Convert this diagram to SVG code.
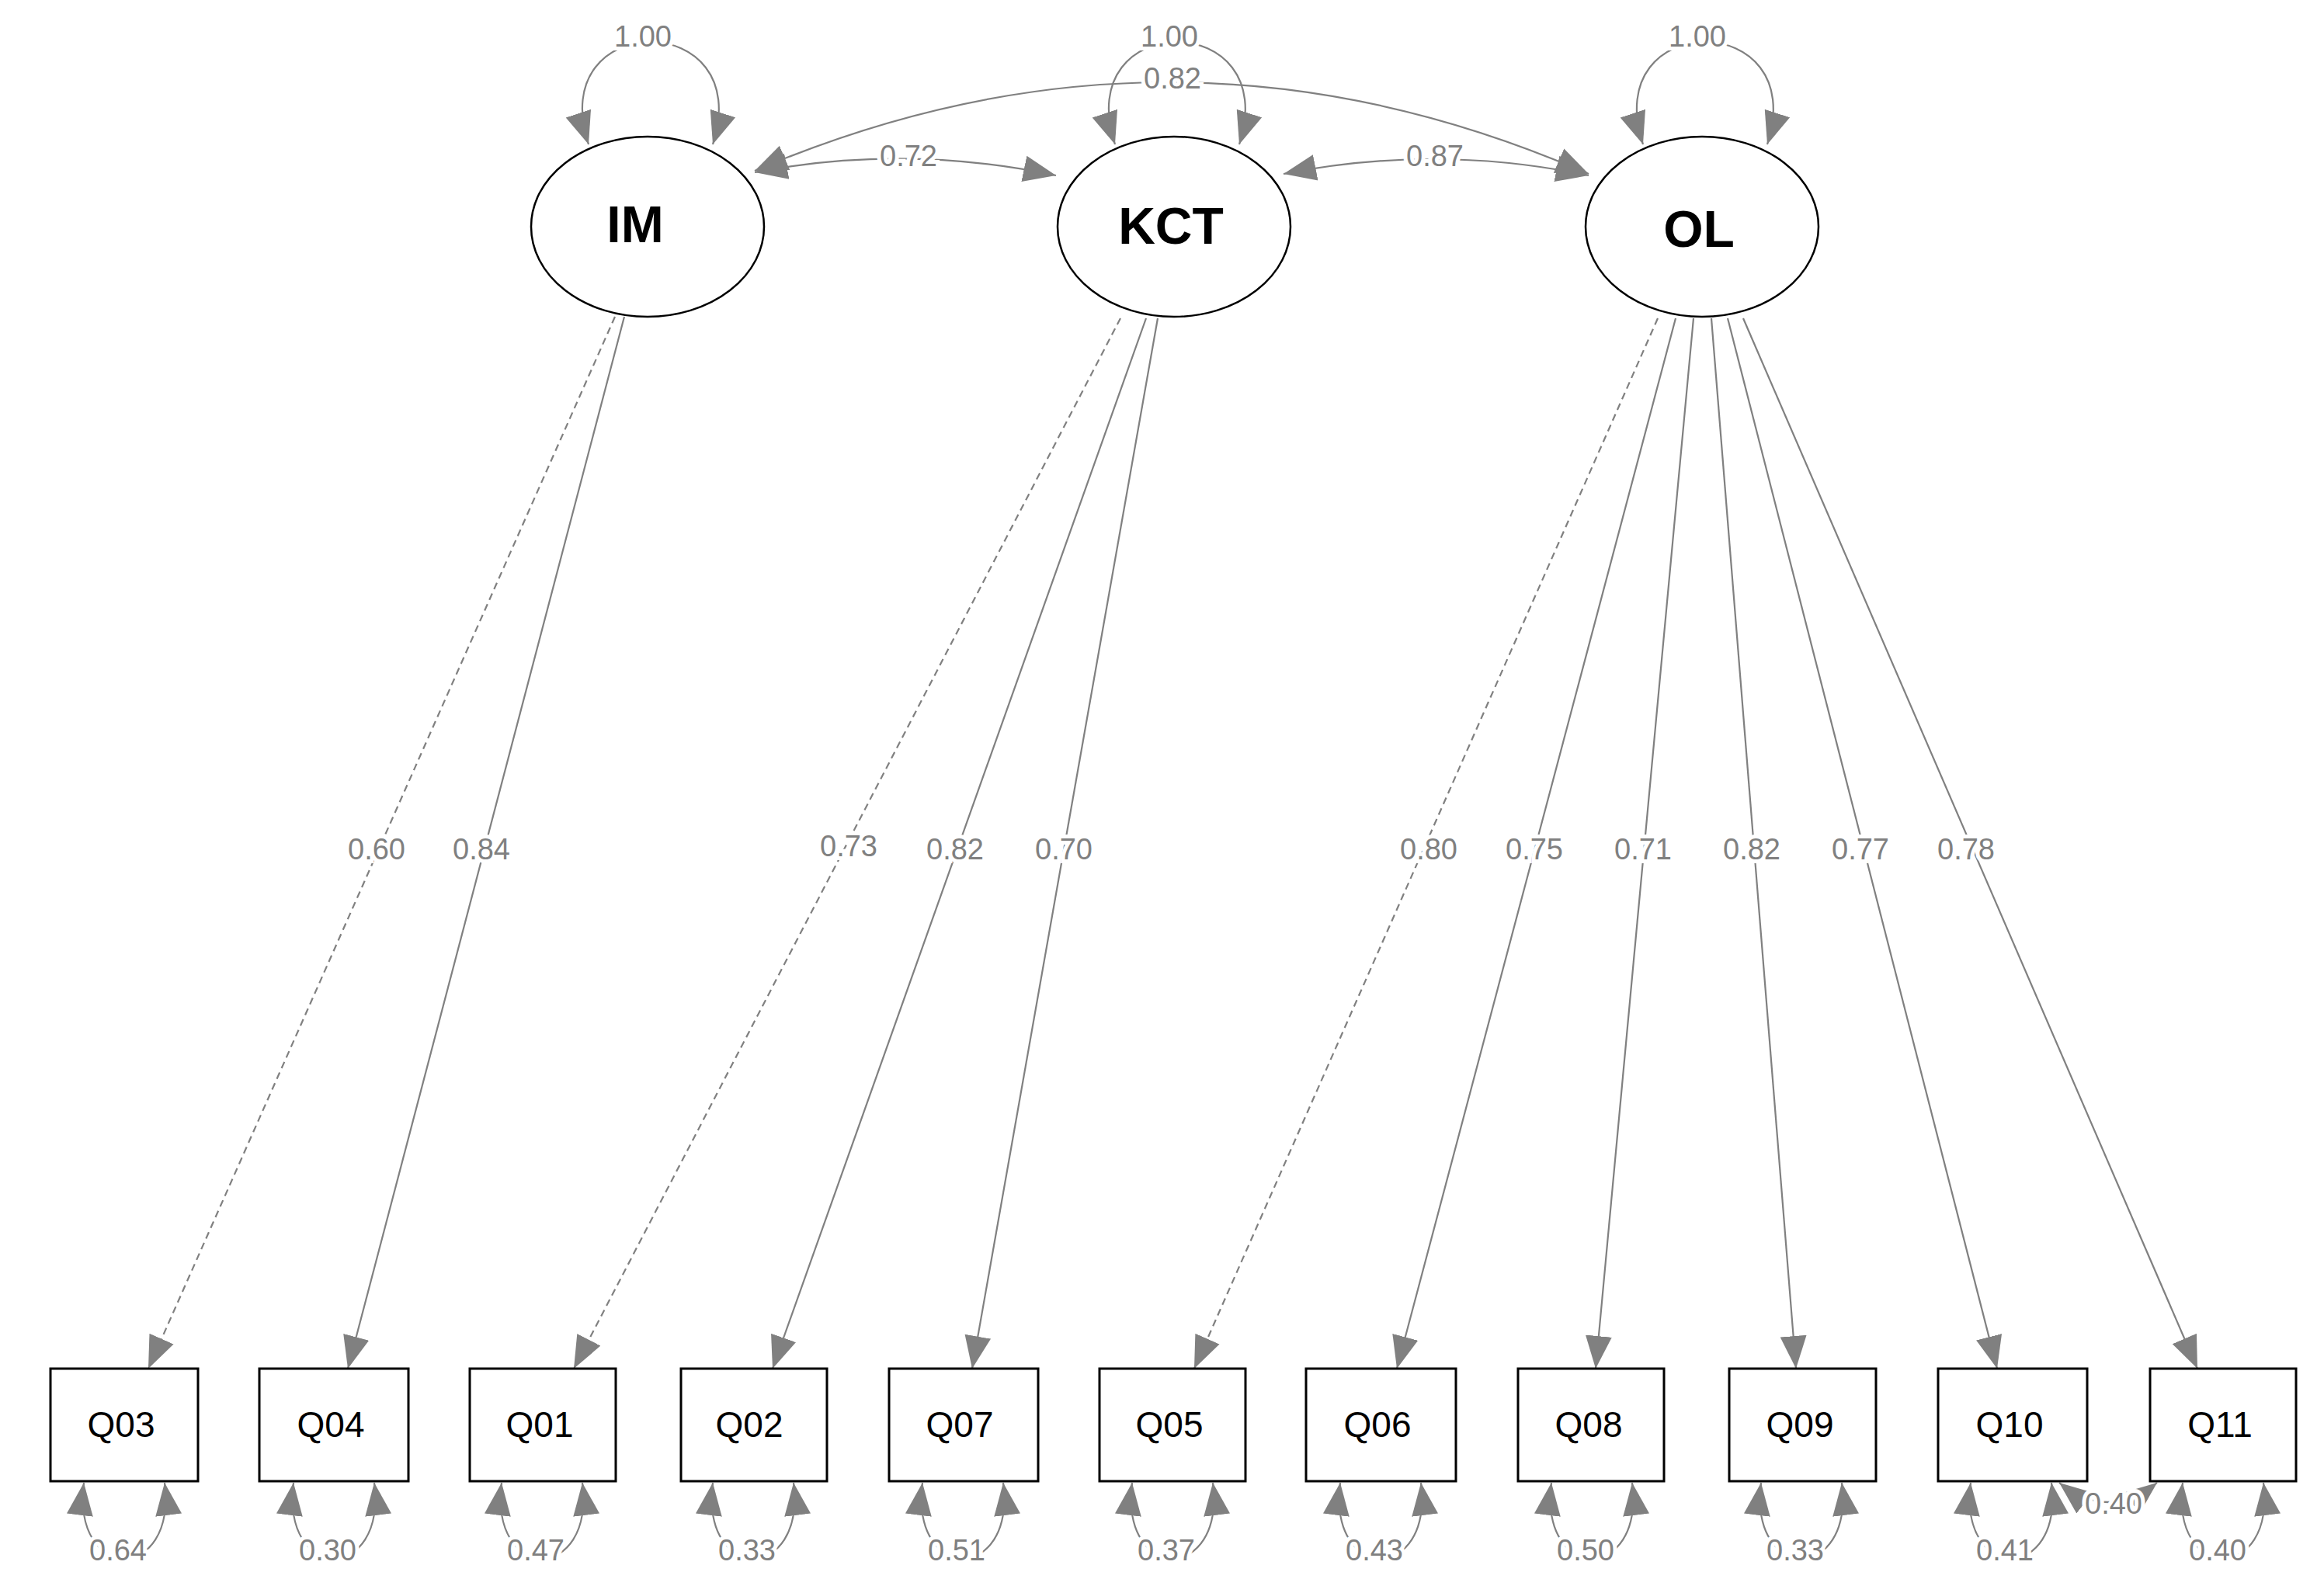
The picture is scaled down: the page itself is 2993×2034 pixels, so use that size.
<svg xmlns="http://www.w3.org/2000/svg" width="2993" height="2034" viewBox="0 0 2993 2034">
<style>
.e{fill:#fff;stroke:#000;stroke-width:2.5}
.b{fill:#fff;stroke:#000;stroke-width:3}
.c{fill:none;stroke:#808080;stroke-width:2.2}
.d{stroke-dasharray:9 6}
.n{font-family:"Liberation Sans",Arial,sans-serif;font-size:66px;font-weight:bold;text-anchor:middle;fill:#000}
.q{font-family:"Liberation Sans",Arial,sans-serif;font-size:46px;text-anchor:middle;fill:#000}
.l{font-family:"Liberation Sans",Arial,sans-serif;font-size:38px;text-anchor:middle;fill:#808080;stroke:#fff;stroke-width:10;paint-order:stroke}
</style>
<defs>
<marker id="a" markerUnits="userSpaceOnUse" markerWidth="44" markerHeight="40" refX="42" refY="20" orient="auto-start-reverse" viewBox="0 0 44 40"><path d="M0,3 L42,20 L0,37 Z" fill="#808080"/></marker>
</defs>
<rect width="2993" height="2034" fill="#fff"/>
<g id="connectors">
<path class="c" d="M758,186 C700,10 975,10 918,186" marker-start="url(#a)" marker-end="url(#a)"/>
<path class="c" d="M1436,186 C1378,10 1653,10 1596,186" marker-start="url(#a)" marker-end="url(#a)"/>
<path class="c" d="M2116,186 C2058,10 2333,10 2276,186" marker-start="url(#a)" marker-end="url(#a)"/>
<path class="c" d="M972,222 Q1165,185 1360,226" marker-start="url(#a)" marker-end="url(#a)"/>
<path class="c" d="M1653,224 Q1850,185 2046,226" marker-start="url(#a)" marker-end="url(#a)"/>
<path class="c" d="M972,220 Q1510,-10 2046,224" marker-start="url(#a)" marker-end="url(#a)"/>
<path class="c d" d="M792,408 L191,1763" marker-end="url(#a)"/>
<path class="c" d="M804,408 L448,1763" marker-end="url(#a)"/>
<path class="c d" d="M1443,410 L739,1763" marker-end="url(#a)"/>
<path class="c" d="M1476,410 L995,1763" marker-end="url(#a)"/>
<path class="c" d="M1491,410 L1252,1763" marker-end="url(#a)"/>
<path class="c d" d="M2135,410 L1538,1763" marker-end="url(#a)"/>
<path class="c" d="M2158,410 L1799,1763" marker-end="url(#a)"/>
<path class="c" d="M2181,410 L2055,1763" marker-end="url(#a)"/>
<path class="c" d="M2204,410 L2313,1763" marker-end="url(#a)"/>
<path class="c" d="M2225,410 L2572,1763" marker-end="url(#a)"/>
<path class="c" d="M2245,410 L2830,1763" marker-end="url(#a)"/>
<g id="residuals">
<path class="c" d="M108,1910 C92,2040 228,2040 212,1910" marker-start="url(#a)" marker-end="url(#a)"/>
<path class="c" d="M378,1910 C362,2040 498,2040 482,1910" marker-start="url(#a)" marker-end="url(#a)"/>
<path class="c" d="M646,1910 C630,2040 766,2040 750,1910" marker-start="url(#a)" marker-end="url(#a)"/>
<path class="c" d="M918,1910 C902,2040 1038,2040 1022,1910" marker-start="url(#a)" marker-end="url(#a)"/>
<path class="c" d="M1188,1910 C1172,2040 1308,2040 1292,1910" marker-start="url(#a)" marker-end="url(#a)"/>
<path class="c" d="M1458,1910 C1442,2040 1578,2040 1562,1910" marker-start="url(#a)" marker-end="url(#a)"/>
<path class="c" d="M1726,1910 C1710,2040 1846,2040 1830,1910" marker-start="url(#a)" marker-end="url(#a)"/>
<path class="c" d="M1998,1910 C1982,2040 2118,2040 2102,1910" marker-start="url(#a)" marker-end="url(#a)"/>
<path class="c" d="M2268,1910 C2252,2040 2388,2040 2372,1910" marker-start="url(#a)" marker-end="url(#a)"/>
<path class="c" d="M2538,1910 C2522,2040 2658,2040 2642,1910" marker-start="url(#a)" marker-end="url(#a)"/>
<path class="c" d="M2811,1910 C2795,2040 2931,2040 2915,1910" marker-start="url(#a)" marker-end="url(#a)"/>
<path class="c" d="M2652,1910 Q2715,1960 2778,1910" marker-start="url(#a)" marker-end="url(#a)"/>
</g>
<g id="labels">
<text class="l" x="828" y="60">1.00</text>
<text class="l" x="1506" y="60">1.00</text>
<text class="l" x="2186" y="60">1.00</text>
<text class="l" x="1510" y="114">0.82</text>
<text class="l" x="1170" y="214">0.72</text>
<text class="l" x="1848" y="214">0.87</text>
<text class="l" x="485" y="1107">0.60</text>
<text class="l" x="620" y="1107">0.84</text>
<text class="l" x="1093" y="1103">0.73</text>
<text class="l" x="1230" y="1107">0.82</text>
<text class="l" x="1370" y="1107">0.70</text>
<text class="l" x="1840" y="1107">0.80</text>
<text class="l" x="1976" y="1107">0.75</text>
<text class="l" x="2116" y="1107">0.71</text>
<text class="l" x="2256" y="1107">0.82</text>
<text class="l" x="2396" y="1107">0.77</text>
<text class="l" x="2532" y="1107">0.78</text>
<text class="l" x="152" y="2010">0.64</text>
<text class="l" x="422" y="2010">0.30</text>
<text class="l" x="690" y="2010">0.47</text>
<text class="l" x="962" y="2010">0.33</text>
<text class="l" x="1232" y="2010">0.51</text>
<text class="l" x="1502" y="2010">0.37</text>
<text class="l" x="1770" y="2010">0.43</text>
<text class="l" x="2042" y="2010">0.50</text>
<text class="l" x="2312" y="2010">0.33</text>
<text class="l" x="2582" y="2010">0.41</text>
<text class="l" x="2856" y="2010">0.40</text>
<text class="l" x="2722" y="1950">0.40</text>
</g>
</g>
<g id="IM"><ellipse class="e" cx="834" cy="292" rx="150" ry="116"/><text class="n" x="818" y="312">IM</text></g>
<g id="KCT"><ellipse class="e" cx="1512" cy="292" rx="150" ry="116"/><text class="n" x="1508" y="314">KCT</text></g>
<g id="OL"><ellipse class="e" cx="2192" cy="292" rx="150" ry="116"/><text class="n" x="2188" y="318">OL</text></g>
<g id="Q03"><rect class="b" x="65" y="1763" width="190" height="145"/><text class="q" x="156" y="1851">Q03</text></g>
<g id="Q04"><rect class="b" x="334" y="1763" width="192" height="145"/><text class="q" x="426" y="1851">Q04</text></g>
<g id="Q01"><rect class="b" x="605" y="1763" width="188" height="145"/><text class="q" x="695" y="1851">Q01</text></g>
<g id="Q02"><rect class="b" x="877" y="1763" width="188" height="145"/><text class="q" x="965" y="1851">Q02</text></g>
<g id="Q07"><rect class="b" x="1145" y="1763" width="192" height="145"/><text class="q" x="1236" y="1851">Q07</text></g>
<g id="Q05"><rect class="b" x="1416" y="1763" width="188" height="145"/><text class="q" x="1506" y="1851">Q05</text></g>
<g id="Q06"><rect class="b" x="1682" y="1763" width="193" height="145"/><text class="q" x="1774" y="1851">Q06</text></g>
<g id="Q08"><rect class="b" x="1955" y="1763" width="188" height="145"/><text class="q" x="2046" y="1851">Q08</text></g>
<g id="Q09"><rect class="b" x="2227" y="1763" width="189" height="145"/><text class="q" x="2318" y="1851">Q09</text></g>
<g id="Q10"><rect class="b" x="2496" y="1763" width="192" height="145"/><text class="q" x="2588" y="1851">Q10</text></g>
<g id="Q11"><rect class="b" x="2769" y="1763" width="188" height="145"/><text class="q" x="2859" y="1851">Q11</text></g>
</svg>
